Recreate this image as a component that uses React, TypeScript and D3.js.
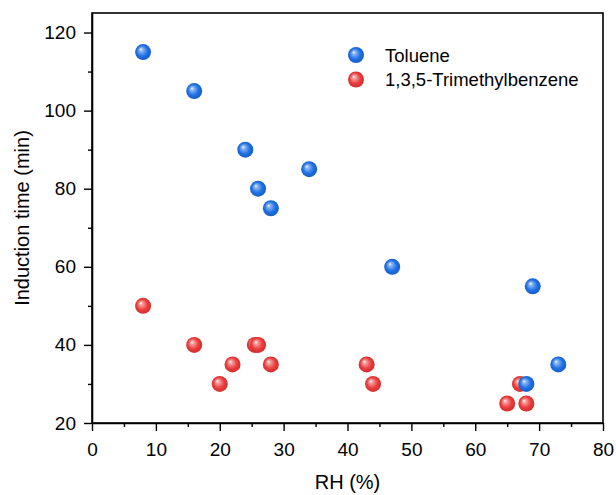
import React, { useEffect, useRef } from 'react';
import * as d3 from 'd3';

const tolueneRH = [8, 16, 24, 26, 28, 34, 47, 69, 68, 73];
const tolueneTime = [115, 105, 90, 80, 75, 85, 60, 55, 30, 35];
const tmbRH = [8, 16, 20, 22, 25.5, 26, 28, 43, 44, 65, 67, 68];
const tmbTime = [50, 40, 30, 35, 40, 40, 35, 35, 30, 25, 30, 25];
const xTicks = [0, 10, 20, 30, 40, 50, 60, 70, 80];
const yTicks = [20, 40, 60, 80, 100, 120];
const seriesNames = ['Toluene', '1,3,5-Trimethylbenzene'];

const App = () => {
  const svgRef = useRef<SVGSVGElement>(null);

  useEffect(() => {
    const width = 616;
    const height = 495;
    const m = { left: 92, right: 13, top: 13, bottom: 72 };
    const font = 'Liberation Sans, Arial, Helvetica, sans-serif';

    const svg = d3.select(svgRef.current)
      .attr('width', width)
      .attr('height', height);
    svg.selectAll('*').remove();

    const x = d3.scaleLinear().domain([0, 80]).range([m.left, width - m.right]);
    const y = d3.scaleLinear().domain([20, 125]).range([height - m.bottom, m.top]);

    const defs = svg.append('defs');
    const grad = (id, light, base, dark) => {
      const g = defs.append('radialGradient')
        .attr('id', id)
        .attr('cx', '0.5').attr('cy', '0.5').attr('r', '0.55')
        .attr('fx', '0.35').attr('fy', '0.32');
      g.append('stop').attr('offset', '0').attr('stop-color', '#ffffff');
      g.append('stop').attr('offset', '0.18').attr('stop-color', light);
      g.append('stop').attr('offset', '0.6').attr('stop-color', base);
      g.append('stop').attr('offset', '1').attr('stop-color', dark);
    };
    grad('gBlue', '#8fb8f2', '#1f72e6', '#1658bd');
    grad('gRed', '#f6a3a3', '#ec3e3e', '#c92a2a');

    // frame
    svg.append('rect')
      .attr('x', x(0)).attr('y', y(125))
      .attr('width', x(80) - x(0)).attr('height', y(20) - y(125))
      .attr('fill', 'none').attr('stroke', '#000').attr('stroke-width', 1.6);

    // x axis
    const xAxis = svg.append('g')
      .attr('transform', `translate(0,${y(20)})`)
      .call(d3.axisBottom(x).tickValues(xTicks).tickSize(8).tickSizeOuter(0).tickPadding(12));
    svg.append('g')
      .attr('transform', `translate(0,${y(20)})`)
      .call(d3.axisBottom(x).tickValues(d3.range(5, 80, 10)).tickSize(4).tickSizeOuter(0).tickFormat(() => ''))
      .call(g => g.select('.domain').remove());

    const yAxis = svg.append('g')
      .attr('transform', `translate(${x(0)},0)`)
      .call(d3.axisLeft(y).tickValues(yTicks).tickSize(8).tickSizeOuter(0).tickPadding(8));
    svg.append('g')
      .attr('transform', `translate(${x(0)},0)`)
      .call(d3.axisLeft(y).tickValues(d3.range(30, 121, 20)).tickSize(4).tickSizeOuter(0).tickFormat(() => ''))
      .call(g => g.select('.domain').remove());

    svg.selectAll('.tick line').attr('stroke', '#000').attr('stroke-width', 1.4);
    svg.selectAll('.domain').attr('stroke', '#000').attr('stroke-width', 1.6);
    [xAxis, yAxis].forEach(a => a.selectAll('text')
      .attr('font-family', font).attr('font-size', 19).attr('fill', '#000'));

    svg.append('text')
      .attr('x', (x(0) + x(80)) / 2).attr('y', 489)
      .attr('text-anchor', 'middle')
      .attr('font-family', font).attr('font-size', 20)
      .text('RH (%)');
    svg.append('text')
      .attr('transform', `translate(29,${(y(20) + y(125)) / 2}) rotate(-90)`)
      .attr('text-anchor', 'middle')
      .attr('font-family', font).attr('font-size', 20)
      .text('Induction time (min)');

    const r = 8;
    svg.append('g').selectAll('circle')
      .data(tmbRH.map((v, i) => [v, tmbTime[i]]))
      .enter().append('circle')
      .attr('cx', d => x(d[0])).attr('cy', d => y(d[1])).attr('r', r)
      .attr('fill', 'url(#gRed)');
    svg.append('g').selectAll('circle')
      .data(tolueneRH.map((v, i) => [v, tolueneTime[i]]))
      .enter().append('circle')
      .attr('cx', d => x(d[0])).attr('cy', d => y(d[1])).attr('r', r)
      .attr('fill', 'url(#gBlue)');

    // legend
    const legend = svg.append('g').attr('transform', 'translate(356,55)');
    seriesNames.forEach((name, i) => {
      legend.append('circle')
        .attr('cx', 0).attr('cy', i * 24.5).attr('r', r)
        .attr('fill', i === 0 ? 'url(#gBlue)' : 'url(#gRed)');
      legend.append('text')
        .attr('x', 29).attr('y', i * 24.5 + 6.5)
        .attr('font-family', font).attr('font-size', 18.5)
        .text(name);
    });
  }, []);

  return (
    <div style={{ position: 'absolute', left: 0, top: 0 }}>
      <svg ref={svgRef}></svg>
    </div>
  );
};

export default App;
